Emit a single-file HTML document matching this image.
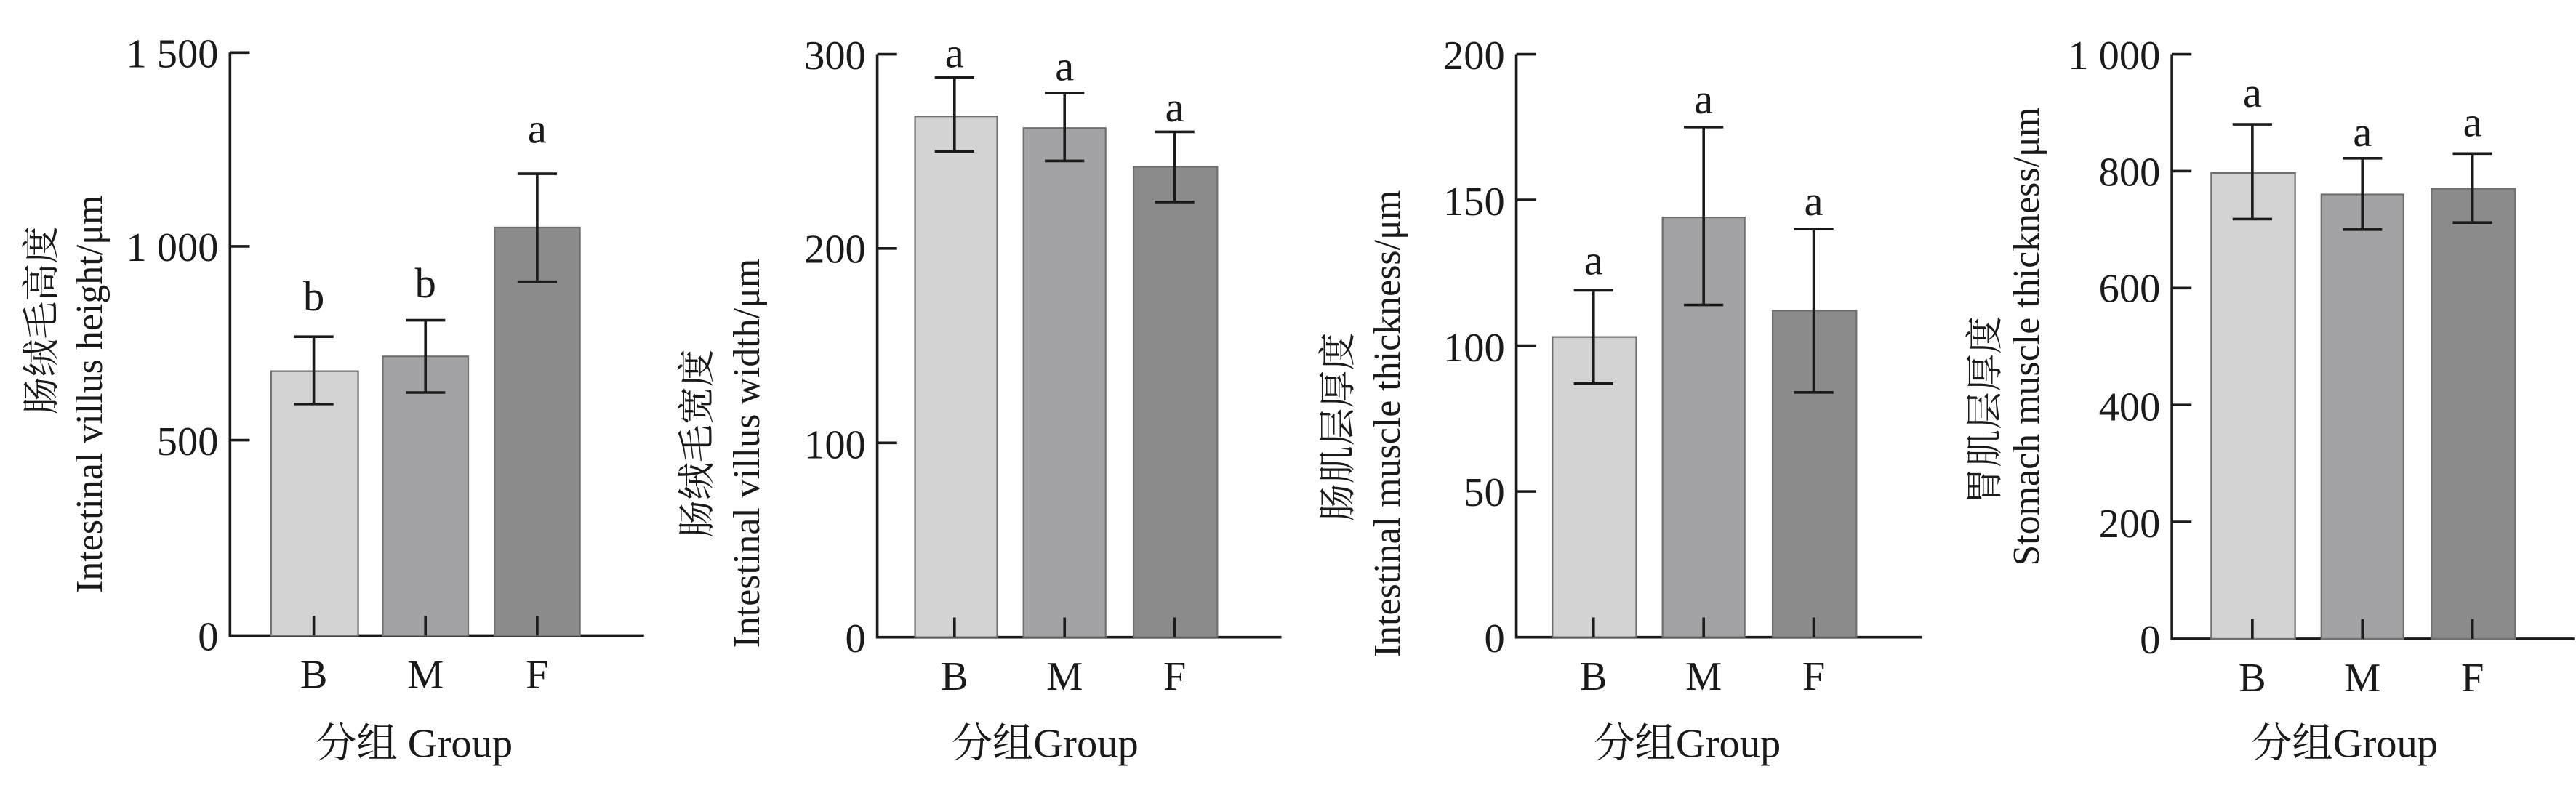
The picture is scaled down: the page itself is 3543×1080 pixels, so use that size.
<!DOCTYPE html>
<html><head><meta charset="utf-8"><style>
html,body{margin:0;padding:0;background:#fff;}
svg{display:block;}
text{font-family:"Liberation Serif","Noto Serif CJK SC",serif;fill:#1a1a1a;}
</style></head><body>
<svg width="3543" height="1080" viewBox="0 0 1568 478" preserveAspectRatio="none" xmlns="http://www.w3.org/2000/svg">
<g stroke="#1a1a1a" stroke-width="1.6" fill="none">
<path d="M140,32 V387 H392"/>
<path d="M140,32 h12 M140,150 h12 M140,268 h12"/>
<path d="M534,33 V388 H780"/>
<path d="M534,33 h12 M534,151.3 h12 M534,269.7 h12"/>
<path d="M923,33 V388 H1170"/>
<path d="M923,33 h12 M923,121.75 h12 M923,210.5 h12 M923,299.25 h12"/>
<path d="M1322,33 V389 H1567"/>
<path d="M1322,33 h12 M1322,104.2 h12 M1322,175.4 h12 M1322,246.6 h12 M1322,317.8 h12"/>
</g>
<g stroke="#707070" stroke-width="1">
<rect x="165" y="226" width="53" height="161" fill="#d3d3d3"/>
<rect x="233" y="217" width="52" height="170" fill="#a3a3a6"/>
<rect x="301" y="138.5" width="52" height="248.5" fill="#8b8b8b"/>
<rect x="557" y="70.9" width="50" height="317.1" fill="#d3d3d3"/>
<rect x="623" y="78" width="50" height="310" fill="#a3a3a6"/>
<rect x="690" y="101.6" width="51" height="286.4" fill="#8b8b8b"/>
<rect x="945" y="205.2" width="51" height="182.8" fill="#d3d3d3"/>
<rect x="1012" y="132.4" width="50" height="255.6" fill="#a3a3a6"/>
<rect x="1079" y="189.2" width="51" height="198.8" fill="#8b8b8b"/>
<rect x="1346" y="105.3" width="51" height="283.7" fill="#d3d3d3"/>
<rect x="1413" y="118.4" width="50" height="270.6" fill="#a3a3a6"/>
<rect x="1480" y="114.9" width="51" height="274.1" fill="#8b8b8b"/>
</g>
<g stroke="#1a1a1a" stroke-width="1.6" fill="none">
<path d="M191,246 V205 M179,246 h24 M179,205 h24 M191,375 V387"/>
<path d="M259,239 V195 M247,239 h24 M247,195 h24 M259,375 V387"/>
<path d="M327,171.6 V105.8 M315,171.6 h24 M315,105.8 h24 M327,375 V387"/>
<path d="M581,92.2 V47.2 M569,92.2 h24 M569,47.2 h24 M581,376 V388"/>
<path d="M648,98 V56.7 M636,98 h24 M636,56.7 h24 M648,376 V388"/>
<path d="M715,123 V80.3 M703,123 h24 M703,80.3 h24 M715,376 V388"/>
<path d="M970,233.6 V176.8 M958,233.6 h24 M958,176.8 h24 M970,376 V388"/>
<path d="M1037,185.7 V77.4 M1025,185.7 h24 M1025,77.4 h24 M1037,376 V388"/>
<path d="M1104,238.9 V139.5 M1092,238.9 h24 M1092,139.5 h24 M1104,376 V388"/>
<path d="M1371,133.4 V75.7 M1359,133.4 h24 M1359,75.7 h24 M1371,377 V389"/>
<path d="M1438,139.8 V96.4 M1426,139.8 h24 M1426,96.4 h24 M1438,377 V389"/>
<path d="M1505,135.5 V93.5 M1493,135.5 h24 M1493,93.5 h24 M1505,377 V389"/>
</g>
<g font-size="25" text-anchor="end">
<text x="133" y="41">1 500</text><text x="133" y="159">1 000</text><text x="133" y="277">500</text><text x="133" y="396">0</text>
<text x="527" y="42">300</text><text x="527" y="160">200</text><text x="527" y="279">100</text><text x="527" y="397">0</text>
<text x="916" y="42">200</text><text x="916" y="131">150</text><text x="916" y="220">100</text><text x="916" y="308">50</text><text x="916" y="397">0</text>
<text x="1315" y="42">1 000</text><text x="1315" y="113">800</text><text x="1315" y="184">600</text><text x="1315" y="256">400</text><text x="1315" y="327">200</text><text x="1315" y="398">0</text>
</g>
<g font-size="26" text-anchor="middle">
<text x="191" y="189">b</text><text x="259" y="181">b</text><text x="327" y="87">a</text>
<text x="581" y="41">a</text><text x="648" y="49">a</text><text x="715" y="74">a</text>
<text x="970" y="167">a</text><text x="1037" y="69">a</text><text x="1104" y="131">a</text>
<text x="1371" y="65">a</text><text x="1438" y="89">a</text><text x="1505" y="83">a</text>
</g>
<g font-size="25" text-anchor="middle">
<text x="191" y="419">B</text><text x="259" y="419">M</text><text x="327" y="419">F</text>
<text x="581" y="420">B</text><text x="648" y="420">M</text><text x="715" y="420">F</text>
<text x="970" y="420">B</text><text x="1037" y="420">M</text><text x="1104" y="420">F</text>
<text x="1371" y="421">B</text><text x="1438" y="421">M</text><text x="1505" y="421">F</text>
<text x="252" y="461">分组 Group</text>
<text x="636" y="461">分组Group</text>
<text x="1027" y="461">分组Group</text>
<text x="1427" y="461">分组Group</text>
</g>
<g font-size="23" text-anchor="middle">
<text transform="translate(33,195) rotate(-90)">肠绒毛高度</text>
<text transform="translate(62,240) rotate(-90)">Intestinal villus height/μm</text>
<text transform="translate(432,270) rotate(-90)">肠绒毛宽度</text>
<text transform="translate(462,276) rotate(-90)">Intestinal villus width/μm</text>
<text transform="translate(822,260) rotate(-90)">肠肌层厚度</text>
<text transform="translate(852,258) rotate(-90)">Intestinal muscle thickness/μm</text>
<text transform="translate(1216,250) rotate(-90)">胃肌层厚度</text>
<text transform="translate(1241,205) rotate(-90)">Stomach muscle thickness/μm</text>
</g>
</svg>
</body></html>
